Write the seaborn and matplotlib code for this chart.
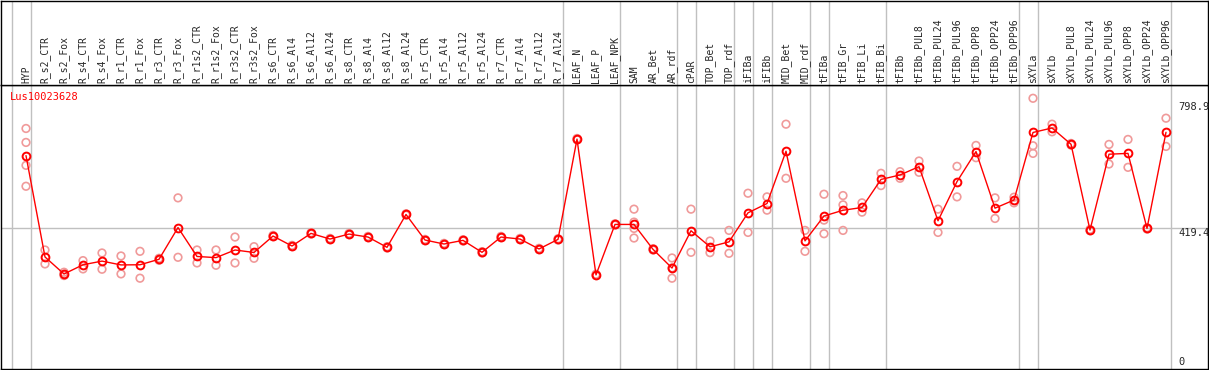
import numpy as np
import pandas as pd
import seaborn as sns
from matplotlib import pyplot as plt

# sample labels, one column each
labels = [
    "HYP", "R_s2_CTR", "R_s2_Fox", "R_s4_CTR", "R_s4_Fox", "R_r1_CTR", "R_r1_Fox",
    "R_r3_CTR", "R_r3_Fox", "R_r1s2_CTR", "R_r1s2_Fox", "R_r3s2_CTR", "R_r3s2_Fox",
    "R_s6_CTR", "R_s6_Al4", "R_s6_Al12", "R_s6_Al24", "R_s8_CTR", "R_s8_Al4",
    "R_s8_Al12", "R_s8_Al24", "R_r5_CTR", "R_r5_Al4", "R_r5_Al12", "R_r5_Al24",
    "R_r7_CTR", "R_r7_Al4", "R_r7_Al12", "R_r7_Al24", "LEAF_N", "LEAF_P", "LEAF_NPK",
    "SAM", "AR_Bet", "AR_rdf", "cPAR", "TOP_Bet", "TOP_rdf", "iFIBa", "iFIBb",
    "MID_Bet", "MID_rdf", "tFIBa", "tFIB_Gr", "tFIB_Li", "tFIB_Bi", "tFIBb",
    "tFIBb_PUL8", "tFIBb_PUL24", "tFIBb_PUL96", "tFIBb_OPP8", "tFIBb_OPP24",
    "tFIBb_OPP96", "sXYLa", "sXYLb", "sXYLb_PUL8", "sXYLb_PUL24", "sXYLb_PUL96",
    "sXYLb_OPP8", "sXYLb_OPP24", "sXYLb_OPP96",
]

# replicate expression values per sample
replicates = [
    [720, 678, 609, 546], [354, 312], [287, 281, 277], [322, 297], [345, 296],
    [336, 282], [350, 269], [323, 329], [511, 332], [354, 315], [354, 308],
    [393, 315], [364, 329], [394, 398], [364, 368], [402, 406], [385, 389],
    [400, 404], [391, 395], [360, 364], [459, 463], [382, 386], [370, 374],
    [381, 385], [345, 349], [391, 395], [385, 389], [355, 359], [384, 388],
    [686, 690], [277, 281], [429, 433], [477, 438, 419, 390], [354, 358],
    [330, 300, 269], [477, 347], [381, 346], [413, 344], [525, 407], [514, 474],
    [733, 570], [413, 350], [522, 444, 403], [518, 490, 413], [496, 468],
    [585, 548], [590, 570], [622, 588], [477, 407], [606, 514], [669, 632],
    [511, 449], [513, 496], [811, 668, 645], [733, 710], [670, 675], [412, 416],
    [672, 613], [687, 603], [417, 421], [751, 666],
]

# first column of each tissue group (separator lines)
group_starts = [0, 1, 29, 32, 35, 36, 38, 39, 40, 42, 43, 46, 53, 54, 61]

gene = "Lus10023628"
tick_values = [798.9, 419.4, 0]
tick_texts = ["798.9", "419.4", "0"]

means = [np.mean(r) for r in replicates]
idx = np.arange(len(labels))
rep_df = pd.DataFrame(
    [(i, v) for i, r in enumerate(replicates) for v in r], columns=["pos", "value"]
)

sns.set_style("white")
plt.rcParams["font.family"] = ["DejaVu Sans Mono", "DejaVu Sans"]

W, H = 1209, 370
fig = plt.figure(figsize=(W / 100, H / 100), dpi=100)
ax = fig.add_axes([1 / W, 1 / H, 1207 / W, 284 / H])
ax_lab = fig.add_axes([1 / W, 285 / H, 1207 / W, 84.5 / H], sharex=ax)

x_lo, x_hi = (1 - 26) / 19, (1208 - 26) / 19
ax.set_xlim(x_lo, x_hi)
ax.set_ylim(-4.5, 851)
ax_lab.set_ylim(0, 85)

sep_color = "#c0c0c0"
for g in group_starts:
    ax.axvline(g - 0.75, color=sep_color, lw=1, zorder=0)
    ax_lab.axvline(g - 0.75, color=sep_color, lw=1, zorder=0)
ax.axhline(419.4, color=sep_color, lw=1, zorder=0)

sns.scatterplot(
    data=rep_df, x="pos", y="value", ax=ax, marker="o", s=30,
    facecolor="none", edgecolor="#f09a9a", linewidth=1.2, zorder=2, legend=False,
)
sns.lineplot(
    x=idx, y=means, ax=ax, color="red", lw=1, marker="o", markersize=5.6,
    markerfacecolor="none", markeredgecolor="red", markeredgewidth=1.4, zorder=3,
)

for i, lab in enumerate(labels):
    ax_lab.text(i, 2, lab, rotation=90, ha="center", va="bottom", fontsize=7)

ytrans = ax.get_yaxis_transform()
for v, t in zip(tick_values, tick_texts):
    ax.text(0.9755, v + (0 if v > 0 else 1.5), t, transform=ytrans, fontsize=7.5,
            ha="left", va="top" if v > 0 else "bottom")

fig.text(10 / W, 1 - 97 / H, gene, color="red", fontsize=7.5, ha="left", va="center")

for a in (ax, ax_lab):
    a.set_xticks([])
    a.set_yticks([])
    a.set_xlabel("")
    a.set_ylabel("")
    for s in a.spines.values():
        s.set_color("black")
        s.set_linewidth(1)

fig.savefig("out.png", dpi=100)
